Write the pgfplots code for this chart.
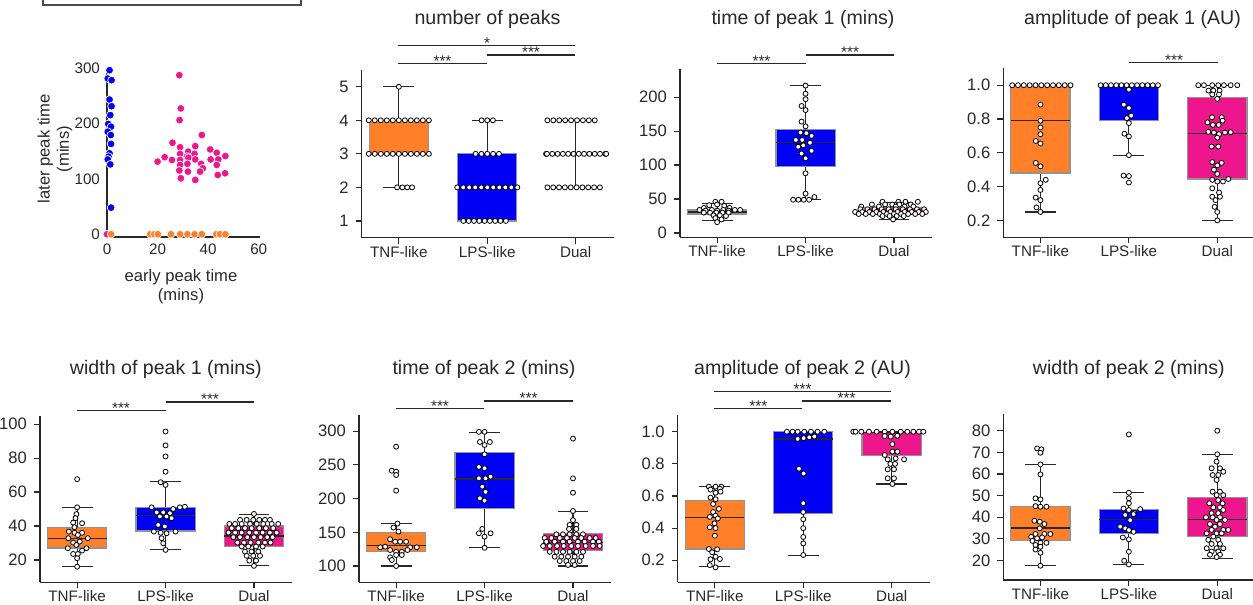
\documentclass[border=0pt]{standalone}
\usepackage{pgfplots}
\pgfplotsset{compat=1.18}
\usepgfplotslibrary{statistics}
\usepackage{fontspec}
\setmainfont{Liberation Sans}
\definecolor{cOr}{RGB}{255,128,40}
\definecolor{cBl}{RGB}{0,0,245}
\definecolor{cPk}{RGB}{238,22,140}
\definecolor{tx}{RGB}{40,40,40}
\newcommand{\tfont}{\fontsize{9.8}{11.5}\selectfont}
\newcommand{\kfont}{\fontsize{7.6}{9}\selectfont}
\newcommand{\yfont}{\fontsize{8.3}{9}\selectfont}
\newcommand{\lfont}{\fontsize{8.3}{9.6}\selectfont}
\newcommand{\sfont}{\fontsize{7.7}{9}\selectfont}
\pgfplotsset{
  base/.style={scale only axis, clip=false, axis lines=left,
    axis line style={-, draw=tx, line width=0.65pt},
    tick align=outside, major tick length=3pt, tick style={draw=tx, line width=0.6pt},
    ticklabel style={font=\kfont, text=tx}, /pgf/number format/assume math mode=true,
    boxplot/draw direction=y},
  bp/.style={base, width=126pt, xmin=-0.42, xmax=2.43, xtick={0,1,2},
    xticklabels={TNF-like,LPS-like,Dual}, xticklabel style={yshift=2.3pt},
    yticklabel style={font=\yfont}},
  dec/.style={yticklabel={\pgfmathprintnumber[fixed,fixed zerofill,precision=1]{\tick}}},
  sw/.style={only marks, mark=*, mark size=1.25pt, mark options={fill=white, draw=black, line width=0.4pt}},
  bx/.style n args={7}{boxplot prepared={draw position=#1, lower whisker=#2,
    lower quartile=#3, median=#4, upper quartile=#5, upper whisker=#6,
    box extend=0.67, whisker extend=0.35}, fill=#7, draw=gray!85, line width=0.6pt},
  boxplot/every whisker/.style={draw=tx, line width=0.6pt},
  boxplot/every median/.style={draw=tx, line width=0.7pt},
  sc/.style={only marks, mark=*, mark size=1.95pt, mark options={draw=white, line width=0.35pt, fill=#1}},
}
\begin{document}
\begin{tikzpicture}
\useasboundingbox (0,0) rectangle (626.5pt,302.5pt);

% ---------- panel 1: scatter ----------
\begin{axis}[base, at={(53.5pt,184pt)}, anchor=south west, width=76.5pt, height=84.5pt,
  xmin=0, xmax=60.5, ymin=-5, ymax=300, xtick={0,20,40,60}, ytick={0,100,200,300},
  major tick length=0pt]
\addplot[sc=cPk] coordinates {(0,0)};
\addplot[sc=cOr] coordinates {(1.6,0)(17.1,0)(18.7,0)(20.1,0)(25.3,0)(28.9,0)(31.8,0)(34.6,0)(37.5,0)(43.2,0)(44.7,0)(46.8,0)};
\addplot[sc=cBl] coordinates {(1,296)(0.3,281)(1.8,278)(1,243)(1.8,231)(1.3,215)(0.5,199)(1.6,194)(0.3,185)(1.5,179)(1.6,163)(1.0,146)(0.6,140)(0.3,135)(1.3,126)(1.6,48)};
\addplot[sc=cPk] coordinates {(28.6,287)(29.2,227)(28.7,206)(37.5,179)(25.9,165)(34.9,159)(28.9,157)(40.8,153)(43.4,147)(32.1,149)(28.9,145)(34.6,145)(46.8,141)(22.8,139)(31.6,140)(32.2,138)(25.7,134)(20,131)(28.9,134)(34.9,135)(41,135)(44,135)(37.2,127)(43.4,125)(28.9,125)(31.8,127)(37.9,119)(28.6,115)(32,113)(36.8,113)(46.7,110)(43.8,107)(29.2,101)(34.9,98)};
\end{axis}

% ---------- panel 2: number of peaks ----------
\begin{axis}[bp, at={(180.85pt,183.65pt)}, anchor=south west, height=83.85pt,
  ymin=0.5, ymax=5.5, ytick={1,2,3,4,5}]
\addplot[bx={0}{2}{3}{3}{4}{5}{cOr}] coordinates {};
\addplot[bx={1}{1}{1}{2}{3}{4}{cBl}] coordinates {};
\addplot[bx={2}{2}{3}{3}{3}{4}{cPk}] coordinates {};
\addplot[sw] coordinates {(0,5)
(-0.34,4)(-0.272,4)(-0.204,4)(-0.136,4)(-0.068,4)(0,4)(0.068,4)(0.136,4)(0.204,4)(0.272,4)(0.34,4)
(-0.34,3)(-0.272,3)(-0.204,3)(-0.136,3)(-0.068,3)(0,3)(0.068,3)(0.136,3)(0.204,3)(0.272,3)(0.34,3)
(-0.02,2)(0.04,2)(0.095,2)(0.15,2)
(0.936,4)(1,4)(1.064,4)
(0.868,3)(0.934,3)(1,3)(1.066,3)(1.132,3)
(0.66,2)(0.728,2)(0.796,2)(0.864,2)(0.932,2)(1,2)(1.068,2)(1.136,2)(1.204,2)(1.272,2)(1.34,2)
(0.73,1)(0.79,1)(0.85,1)(0.91,1)(0.97,1)(1.03,1)(1.09,1)(1.15,1)(1.21,1)
(1.68,4)(1.747,4)(1.814,4)(1.881,4)(1.948,4)(2.015,4)(2.082,4)(2.149,4)(2.216,4)
(1.665,3)(1.675,3)(1.735,3)(1.795,3)(1.855,3)(1.915,3)(1.975,3)(2.035,3)(2.095,3)(2.155,3)(2.215,3)(2.275,3)(2.335,3)(2.345,3)
(1.68,2)(1.746,2)(1.812,2)(1.878,2)(1.944,2)(2.01,2)(2.076,2)(2.142,2)(2.208,2)(2.274,2)};
\end{axis}

% ---------- panel 3: time of peak 1 ----------
\begin{axis}[bp, at={(340pt,183.85pt)}, anchor=south west, height=84pt,
  ymin=-6.3, ymax=241, ytick={0,50,100,150,200}]
\addplot[bx={0}{19}{28}{31}{34}{44}{cOr}] coordinates {};
\addplot[bx={1}{49}{98}{133}{152}{217}{cBl}] coordinates {};
\addplot[bx={2}{20}{28}{33}{37}{45}{cPk}] coordinates {};
\addplot[sw] coordinates {(-0.02,46)(0.05,46)(-0.09,41)(0,42)(0.08,40)(-0.15,37)(0.14,37)(-0.2,34)(-0.13,33)(-0.06,34)(0,33)(0.07,34)(0.13,33)(0.2,34)(0.26,34)(-0.15,30)(-0.08,30)(-0.01,30)(0.06,30)(0.13,30)(-0.04,26)(0.03,26)(0.1,25)(-0.02,22)(0.05,20)(0,16)
(1,217)(1,205)(1,197)(0.955,187)(1,181)(0.955,164)(1,157)(0.943,148)(1.01,147)(1.068,143)(0.89,137)(0.962,137)(1.05,133)(0.974,129)(0.917,127)(1.068,121)(0.955,117)(1,110)(1,88)(1,58)(1.1,53)(0.86,49)(0.92,49)(0.98,49)(1.04,49)
(1.87,46)(2.05,46)(2.13,46)(2.27,46)
(1.75,42)(1.9,42)(1.98,42)(2.06,42)(2.19,42)
(1.63,39)(1.83,39)(2.02,39)(2.12,39)(2.22,39)
(1.62,35)(1.7,35)(1.78,35)(1.86,35)(1.94,35)(2.02,35)(2.1,35)(2.18,35)(2.26,35)(2.34,35)
(1.56,31)(1.64,31)(1.72,31)(1.8,31)(1.88,31)(1.96,31)(2.04,31)(2.12,31)(2.2,31)(2.28,31)(2.36,31)
(1.6,28)(1.68,28)(1.76,28)(1.84,28)(1.92,28)(2.0,28)(2.08,28)(2.16,28)(2.24,28)(2.32,28)
(1.87,25)(1.95,25)(2.03,25)(2.11,25)(1.99,20)};
\end{axis}

% ---------- panel 4: amplitude of peak 1 ----------
\begin{axis}[bp, dec, at={(501.65pt,183.85pt)}, anchor=south west, height=84.5pt,
  ymin=0.1, ymax=1.1, ytick={0.2,0.4,0.6,0.8,1.0}]
\addplot[bx={0}{0.25}{0.48}{0.79}{1.0}{1.0}{cOr}] coordinates {};
\addplot[bx={1}{0.585}{0.79}{1.0}{1.0}{1.0}{cBl}] coordinates {};
\addplot[bx={2}{0.2}{0.445}{0.715}{0.925}{1.0}{cPk}] coordinates {};
\addplot[sw] coordinates {(-0.32,1)(-0.254,1)(-0.188,1)(-0.122,1)(-0.056,1)(0.01,1)(0.076,1)(0.142,1)(0.208,1)(0.274,1)(0.34,1)
(0,0.885)(0,0.79)(0,0.75)(0,0.71)(-0.053,0.67)(0,0.655)(-0.053,0.54)(0,0.52)(0.06,0.44)(0,0.42)(0,0.38)(-0.053,0.335)(0,0.32)(-0.045,0.277)(0,0.25)
(0.68,1)(0.739,1)(0.798,1)(0.857,1)(0.916,1)(0.975,1)(1.034,1)(1.093,1)(1.152,1)(1.211,1)(1.27,1)(1.329,1)
(1,0.974)(0.943,0.885)(1,0.865)(1.026,0.82)(0.977,0.805)(1,0.776)(0.95,0.713)(1,0.697)(1,0.586)(0.94,0.465)(1.0,0.462)(1,0.424)
(1.785,1)(1.849,1)(1.943,1)(2.011,1)(2.075,1)(2.151,1)(2.226,1)
(1.9,0.968)(1.955,0.968)(2.026,0.968)(1.943,0.945)(2.019,0.945)(2,0.919)
(1.94,0.81)(2.05,0.81)(2.06,0.79)(1.89,0.78)(1.95,0.765)(2.015,0.765)
(1.9,0.724)(1.962,0.72)(2.02,0.71)(2.087,0.72)(2.151,0.722)(2,0.69)
(1.936,0.637)(2.011,0.637)
(1.943,0.545)(2.049,0.54)(2,0.525)(1.962,0.5)(2,0.475)
(2.125,0.445)(1.943,0.44)(2,0.43)(2.064,0.43)
(1.943,0.39)(2.02,0.365)(1.943,0.34)(2.03,0.34)(1.98,0.32)(1.97,0.28)(2,0.25)(2,0.2)};
\end{axis}

% ---------- panel 5: width of peak 1 ----------
\begin{axis}[bp, at={(20pt,11.35pt)}, anchor=south west, height=83.3pt,
  ymin=6.8, ymax=105, ytick={20,40,60,80,100}]
\addplot[bx={0}{16}{27}{32.5}{39}{51}{cOr}] coordinates {};
\addplot[bx={1}{26}{37}{46}{51}{66}{cBl}] coordinates {};
\addplot[bx={2}{16.5}{28}{34}{40}{47}{cPk}] coordinates {};
\addplot[sw] coordinates {(0,67.6)(0,51)(-0.008,47)(-0.019,44.6)(-0.045,42)(0.056,41.6)(-0.03,39.3)(-0.094,36.7)(-0.03,36)(0.056,36)(0.008,34.7)(-0.1,32.8)(0.12,32.8)(-0.045,30.2)(0.03,30.8)(-0.008,28.8)(-0.105,26.9)(0.056,25.5)(0.105,26.9)(-0.045,23.5)(0.008,23.5)(0,21)(0,16)
(1,95.7)(1,87.5)(1,81)(1,72)(0.944,65.8)(1,64.2)(0.842,51)(1.162,51)(1.218,51.3)(0.9,48)(1.086,50)(0.974,48)(1.049,47.5)(0.936,45.6)(1.011,45.6)(1.068,44.6)(0.917,40.6)(0.992,39.7)(0.868,36.7)(0.944,36)(1.113,36.7)(1.011,35.7)(0.955,32.8)(0.974,29.8)(1,25.9)
(2,47.1)
(1.842,43.6)(1.917,43.6)(1.992,43.6)(2.06,43.6)(2.124,43.6)(2.18,43.6)
(1.722,41.2)(1.786,41.2)(1.861,41.2)(1.955,41.2)(2.03,41.2)(2.105,41.2)(2.2,41.2)(2.274,41.2)
(1.748,38.7)(1.823,38.7)(1.898,38.7)(1.973,38.7)(2.06,38.7)(2.135,38.7)(2.218,38.7)
(1.711,36.1)(1.786,36.1)(1.861,36.1)(1.947,36.1)(2.023,36.1)(2.098,36.1)(2.18,36.1)(2.256,36.1)
(1.767,33.4)(1.842,33.4)(1.925,33.4)(2.0,33.4)(2.075,33.4)(2.15,33.4)(2.21,33.4)
(1.812,30.2)(1.887,30.2)(1.962,30.2)(2.049,30.2)(2.124,30.2)(2.188,30.2)
(1.861,27.9)(1.936,27.9)(2.023,27.9)(2.098,27.9)
(1.898,24.9)(1.973,24.9)(2.049,24.9)
(1.917,22.4)(1.992,22.4)(2.068,22.4)
(1.947,19.6)(2.023,19.6)(2,16.5)};
\end{axis}

% ---------- panel 6: time of peak 2 ----------
\begin{axis}[bp, at={(179.5pt,11.35pt)}, anchor=south west, height=83.65pt,
  ymin=75.8, ymax=324, ytick={100,150,200,250,300}]
\addplot[bx={0}{100}{122}{130}{150}{163}{cOr}] coordinates {};
\addplot[bx={1}{127}{185}{229}{268}{298}{cBl}] coordinates {};
\addplot[bx={2}{100}{123}{135}{148}{181}{cPk}] coordinates {};
\addplot[sw] coordinates {(0,277)(-0.049,241.4)(0,240)(0,235)(0,211.8)(0.015,163)(-0.03,157)(0.026,151)(-0.068,139.6)(-0.011,136)(0.045,136)(0.113,136)(-0.124,128.7)(-0.18,127.7)(0.158,127.7)(0.233,127.7)(-0.068,123.7)(0,121)(0.064,121)(0.128,123.7)(-0.068,112.9)(0,116.3)(0.064,116.3)(-0.049,108.9)(0,100)
(0.936,299)(1,299)(0.947,284)(1.06,284)(1,279.5)(1,265.7)(0.936,247)(1,245)(1.068,232.5)(1.011,230)(0.936,230)(0.974,217.7)(1.011,210)(0.947,200.4)(1,197)(0.974,155)(0.936,148.5)(1.068,148.5)(1,143.5)(1,127)
(2,289)(2,230)(2,208.8)(2,181.6)(2,168)(1.962,161)(2.038,161)(1.955,155)(2.038,155)
(1.812,147)(1.887,147)(1.962,147)(2.038,147)(2.113,147)
(1.68,141.5)(1.756,141.5)(1.85,141.5)(1.932,141.5)(2.019,141.5)(2.094,141.5)(2.188,141.5)(2.256,141.5)
(1.699,136)(1.793,136)(1.887,136)(1.962,136)(2.056,136)(2.132,136)(2.226,136)(2.293,136)
(1.662,129.7)(1.737,129.7)(1.82,129.7)(1.895,129.7)(1.981,129.7)(2.056,129.7)(2.143,129.7)(2.226,129.7)(2.301,129.7)
(1.737,121)(1.812,121)(1.887,121)(1.962,121)(2.038,121)(2.113,121)
(1.793,113.8)(1.868,113.8)(1.944,113.8)(2.019,113.8)(2.094,113.8)
(1.85,107.4)(1.925,107.4)(2.0,107.4)(2.075,107.4)
(1.944,101.5)(2.019,101.5)};
\end{axis}

% ---------- panel 7: amplitude of peak 2 ----------
\begin{axis}[bp, dec, at={(338.85pt,11.35pt)}, anchor=south west, height=83.65pt,
  ymin=0.063, ymax=1.104, ytick={0.2,0.4,0.6,0.8,1.0}]
\addplot[bx={0}{0.16}{0.27}{0.465}{0.57}{0.66}{cOr}] coordinates {};
\addplot[bx={1}{0.23}{0.49}{0.955}{1.0}{1.0}{cBl}] coordinates {};
\addplot[bx={2}{0.675}{0.85}{0.995}{0.995}{1.0}{cPk}] coordinates {};
\addplot[sw] coordinates {(-0.068,0.658)(0.008,0.658)(0.072,0.658)(-0.049,0.64)(0.057,0.645)(0.064,0.627)(0.008,0.62)(-0.049,0.59)(0.008,0.58)(-0.019,0.55)(0.045,0.52)(-0.019,0.50)(0.008,0.478)(-0.057,0.47)(0.034,0.46)(-0.004,0.43)(-0.057,0.405)(0.008,0.40)(0,0.353)(-0.068,0.27)(0.026,0.268)(-0.03,0.25)(0.008,0.222)(0.057,0.208)(-0.049,0.206)(-0.057,0.17)(0.008,0.156)
(0.815,1)(0.879,1)(0.936,1)(1.011,1)(1.087,1)(1.162,1)(1.238,1)
(0.936,0.955)(1.004,0.96)(1.068,0.965)(1.125,0.97)(0.951,0.77)(1.004,0.74)(1,0.555)(1,0.50)(1,0.455)(1,0.40)(1,0.345)(1,0.305)(1,0.233)
(1.566,1)(1.592,1)(1.657,1)(1.743,1)(1.83,1)(1.921,1)(2.008,1)(2.102,1)(2.177,1)(2.245,1)(2.309,1)(2.358,1)
(1.921,0.973)(1.989,0.97)(2.064,0.975)(2.008,0.923)(2.008,0.876)(2.064,0.876)(1.921,0.855)(1.955,0.828)(2.045,0.834)(2.14,0.828)(1.985,0.80)(2.038,0.80)(1.955,0.766)(2.026,0.766)(1.955,0.71)(2.026,0.71)(2.008,0.675)};
\end{axis}

% ---------- panel 8: width of peak 2 ----------
\begin{axis}[bp, at={(501.65pt,12.5pt)}, anchor=south west, height=82.85pt,
  ymin=10.9, ymax=87.6, ytick={20,30,40,50,60,70,80}]
\addplot[bx={0}{17.5}{29}{35}{45}{64.5}{cOr}] coordinates {};
\addplot[bx={1}{18}{32.5}{39}{43.5}{51.5}{cBl}] coordinates {};
\addplot[bx={2}{21}{31}{39}{49}{69}{cPk}] coordinates {};
\addplot[sw] coordinates {(-0.038,71.8)(0.011,71.4)(0,69.8)(0,64.4)(0,59.8)(-0.056,48.7)(0,48.2)(-0.056,45.1)(0,44.8)(0.068,44.8)(-0.068,38.3)(-0.008,37.9)(0.045,36.8)(-0.008,34.8)(-0.056,32.2)(0.045,32.2)(0.113,32.2)(-0.105,30.9)(-0.038,30.2)(0.019,30.6)(-0.09,29)(0,28.1)(0.068,28.1)(-0.056,27.1)(0,26.3)(-0.056,25)(0,23.5)(0,17.5)
(1,78.3)(1,51.3)(1,48.7)(1,46.4)(0.94,44)(1,43.3)(1.128,43.7)(1.06,42)(0.959,41)(1.053,41.4)(1.015,38.6)(0.902,35.6)(0.959,34.8)(1.053,33.2)(1,34)(0.932,30.6)(1,29.7)(1,24)(0.947,19.8)(1,18.1)
(2,80)(2,69.1)(1.992,65.7)(1.936,62.6)(2.03,62.6)(2.068,61)(1.947,59.5)(2.011,59.5)(1.992,57.2)
(1.947,51.8)(2.03,51.8)(1.992,50.2)(2.068,50.2)(2.011,47.9)(1.91,46.4)(2.06,46.4)(1.955,44.5)(2.03,44.5)(2.068,43.3)
(1.936,41.8)(2.011,41.8)(1.872,39.9)(1.947,39.9)(2.03,39.9)(2.086,38.7)(1.992,38.7)(1.917,36.8)(2.03,36.8)(1.974,35.6)
(1.936,34.1)(2.068,34.1)(2.124,34.1)(1.992,32.5)(1.88,32.5)(2.049,32.5)(1.955,31)(2.011,29.5)(1.898,29.5)
(1.936,27.6)(2.03,27.6)(1.88,25.6)(1.992,25.6)(2.068,25.6)(1.936,24.1)(2.011,24.1)(1.917,22.6)(2.03,22.6)(1.992,21.5)};
\end{axis}

% ---------- annotations in pixel coordinates ----------
\begin{scope}[x=0.5pt, y=-0.5pt, yshift=302.5pt]
\draw[gray!60!black, line width=0.7pt] (43,-10) rectangle (301,5);
\node[rotate=90, align=center, font=\lfont, text=tx, inner sep=0pt] at (55,149) {later peak time\\(mins)};
\node[align=center, font=\lfont, text=tx, inner sep=0pt] at (181,287) {early peak time\\(mins)};
\begin{scope}[every node/.style={anchor=base, font=\tfont, text=tx, inner sep=0pt}]
\node at (487.5,25) {number of peaks};
\node at (803,25) {time of peak 1 (mins)};
\node at (1132.5,25) {amplitude of peak 1 (AU)};
\node at (165.8,375) {width of peak 1 (mins)};
\node at (484,375) {time of peak 2 (mins)};
\node at (802.5,375) {amplitude of peak 2 (AU)};
\node at (1128.8,375) {width of peak 2 (mins)};
\end{scope}
\begin{scope}[draw=tx, line width=0.55pt, every node/.style={anchor=base, font=\sfont, text=tx, inner sep=0pt}]
\draw (398.3,45.7) -- (575,45.7);   \node at (487,48.5) {*};
\draw (398.3,63.3) -- (486.7,63.3); \node at (442.5,66.1) {***};
\draw (487.3,55) -- (575,55);       \node at (531,57.8) {***};
\draw (717.3,63.3) -- (805.7,63.3); \node at (761.5,66.1) {***};
\draw (806,55) -- (894.3,55);       \node at (850,57.8) {***};
\draw (1129.3,62.3) -- (1218.3,62.3); \node at (1174,65.1) {***};
\draw (76.7,410.3) -- (165.7,410.3); \node at (121,413.1) {***};
\draw (165.7,402) -- (254,402);     \node at (210,404.8) {***};
\draw (396,408.7) -- (484,408.7);   \node at (440,411.5) {***};
\draw (484,401) -- (573.3,401);     \node at (528.7,403.8) {***};
\draw (714.3,391.3) -- (891,391.3); \node at (802.7,394.1) {***};
\draw (714.3,408.7) -- (802.3,408.7); \node at (758.3,411.5) {***};
\draw (802.3,401) -- (891,401);     \node at (846.7,403.8) {***};
\end{scope}
\end{scope}
\end{tikzpicture}
\end{document}
